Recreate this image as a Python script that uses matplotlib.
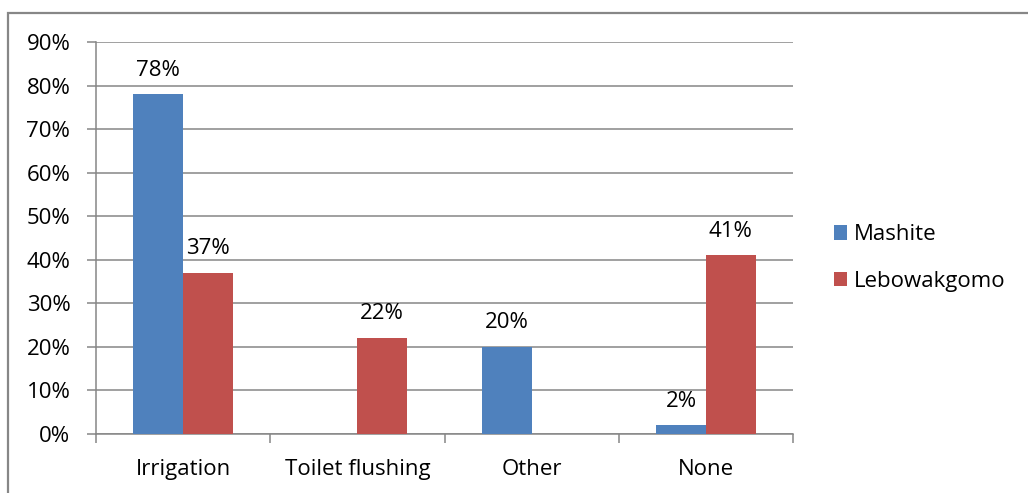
import matplotlib.pyplot as plt
import numpy as np
from matplotlib.patches import Rectangle, Patch

plt.rcParams['font.family'] = ['Open Sans', 'DejaVu Sans']

categories = ['Irrigation', 'Toilet flushing', 'Other', 'None']
mashite = [78, 0, 20, 2]
lebowakgomo = [37, 22, 0, 41]
series_names = ['Mashite', 'Lebowakgomo']
colors = ['#4F81BD', '#C0504D']
grid_color = '#868686'
fs = 16

fig = plt.figure(figsize=(10.28, 4.93), dpi=100)
ax = fig.add_axes([0.0934, 0.1197, 0.6780, 0.7951])

x = np.arange(len(categories))
w = 0.285
for vals, off, col in [(mashite, -w / 2, colors[0]), (lebowakgomo, w / 2, colors[1])]:
    bars = ax.bar(x + off, np.array(vals) / 100, width=w, color=col, zorder=3)
    for b, v in zip(bars, vals):
        if v == 0:
            continue
        ax.annotate(f'{v}%', (b.get_x() + b.get_width() / 2, b.get_height()),
                    xytext=(0, 13.5), textcoords='offset points',
                    ha='center', va='baseline', fontsize=fs, color='black')

ax.set_xlim(-0.5, len(categories) - 0.5)
ax.set_ylim(0, 0.9)
ax.set_yticks(np.arange(0, 0.91, 0.1))
ax.set_yticklabels([f'{int(round(t * 100))}%' for t in np.arange(0, 0.91, 0.1)])
ax.yaxis.grid(True, color=grid_color, linewidth=1.1, zorder=0)

ax.set_xticks(x)
ax.set_xticklabels(categories)
ax.set_xticks(np.arange(-0.5, len(categories)), minor=True)
ax.tick_params(axis='x', which='major', length=0, pad=18, labelsize=fs)
ax.tick_params(axis='x', which='minor', length=6.5, width=1.1, color=grid_color, direction='out')
ax.tick_params(axis='y', length=6.5, width=1.1, color=grid_color, pad=12, labelsize=fs)

for s in ['top', 'right']:
    ax.spines[s].set_visible(False)
for s in ['left', 'bottom']:
    ax.spines[s].set_color(grid_color)
    ax.spines[s].set_linewidth(1.1)

handles = [Patch(facecolor=c) for c in colors]
fig.legend(handles, series_names, loc='center left', bbox_to_anchor=(0.811, 0.4767),
           frameon=False, fontsize=fs, handlelength=0.62, handleheight=0.62,
           handletextpad=0.3, labelspacing=1.15, borderpad=0, borderaxespad=0)

# outer chart border
fig.patches.append(Rectangle((8 / 1028, -0.1), 1.2, 1 - 13 / 493 + 0.1,
                             transform=fig.transFigure, fill=False,
                             edgecolor='#878787', linewidth=1.6))

fig.savefig('out.png', dpi=100)
